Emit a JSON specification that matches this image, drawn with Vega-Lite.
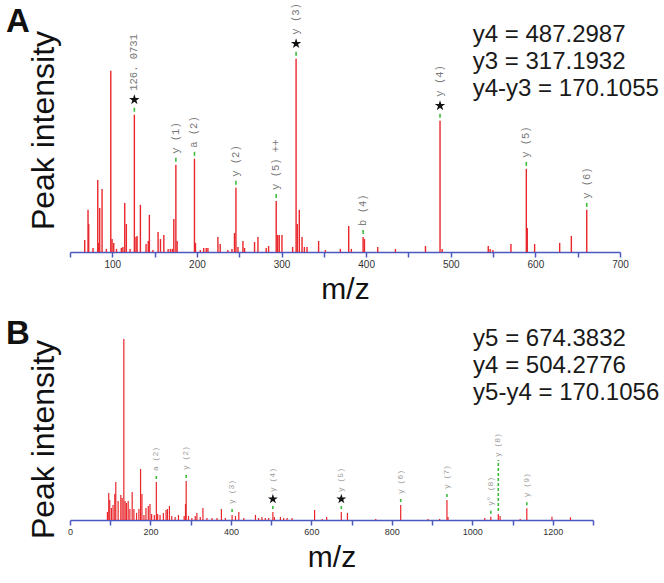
{
  "$schema": "https://vega.github.io/schema/vega-lite/v6.json",
  "background": "white",
  "padding": {"left": 6, "top": 3, "right": 0, "bottom": 0},
  "spacing": 14,
  "config": {
    "view": {"stroke": null},
    "font": "Liberation Sans",
    "axis": {"titleFontWeight": "normal", "titleColor": "#111", "labelFont": "Liberation Sans", "grid": false},
    "title": {"font": "Liberation Sans", "fontWeight": "bold", "color": "#111"}
  },
  "datasets": {
    "peaksA": [
      {"mz": 67.4, "intensity": 6.2}, {"mz": 71.3, "intensity": 21.8}, {"mz": 72.1, "intensity": 14.5}, {"mz": 77.2, "intensity": 2.1},
      {"mz": 82.8, "intensity": 37.3}, {"mz": 84.0, "intensity": 4.7}, {"mz": 85.1, "intensity": 22.8}, {"mz": 87.9, "intensity": 32.6},
      {"mz": 93.0, "intensity": 1.6}, {"mz": 98.2, "intensity": 93.8}, {"mz": 99.7, "intensity": 6.7}, {"mz": 101.7, "intensity": 4.7},
      {"mz": 105.0, "intensity": 1.6}, {"mz": 110.7, "intensity": 2.1}, {"mz": 112.5, "intensity": 2.6}, {"mz": 114.7, "intensity": 25.4},
      {"mz": 116.6, "intensity": 14.5}, {"mz": 121.0, "intensity": 1.6}, {"mz": 126.07, "intensity": 71.0}, {"mz": 128.0, "intensity": 7.8},
      {"mz": 129.3, "intensity": 8.3}, {"mz": 133.2, "intensity": 24.4}, {"mz": 139.9, "intensity": 4.1}, {"mz": 142.5, "intensity": 5.7},
      {"mz": 143.8, "intensity": 19.2}, {"mz": 148.0, "intensity": 1.0}, {"mz": 154.1, "intensity": 10.4}, {"mz": 156.9, "intensity": 6.7},
      {"mz": 160.9, "intensity": 8.8}, {"mz": 166.0, "intensity": 1.6}, {"mz": 168.7, "intensity": 1.6}, {"mz": 171.0, "intensity": 1.6},
      {"mz": 172.7, "intensity": 17.1}, {"mz": 175.12, "intensity": 45.1}, {"mz": 176.6, "intensity": 5.7}, {"mz": 197.1, "intensity": 48.2},
      {"mz": 198.3, "intensity": 4.7}, {"mz": 204.0, "intensity": 1.0}, {"mz": 208.0, "intensity": 2.1}, {"mz": 211.0, "intensity": 2.1},
      {"mz": 213.0, "intensity": 2.1}, {"mz": 224.8, "intensity": 7.8}, {"mz": 227.5, "intensity": 4.1}, {"mz": 236.6, "intensity": 1.0},
      {"mz": 241.4, "intensity": 1.6}, {"mz": 244.4, "intensity": 9.8}, {"mz": 246.1, "intensity": 33.2}, {"mz": 248.5, "intensity": 2.6},
      {"mz": 254.4, "intensity": 5.7}, {"mz": 256.3, "intensity": 2.1}, {"mz": 268.1, "intensity": 5.2}, {"mz": 272.1, "intensity": 7.8},
      {"mz": 281.9, "intensity": 2.1}, {"mz": 284.7, "intensity": 3.1}, {"mz": 293.7, "intensity": 26.4}, {"mz": 295.4, "intensity": 8.8},
      {"mz": 297.3, "intensity": 8.8}, {"mz": 300.5, "intensity": 8.8}, {"mz": 313.1, "intensity": 2.6}, {"mz": 317.19, "intensity": 100.0},
      {"mz": 318.6, "intensity": 14.5}, {"mz": 321.0, "intensity": 21.8}, {"mz": 324.2, "intensity": 7.8}, {"mz": 327.0, "intensity": 2.6},
      {"mz": 330.1, "intensity": 2.6}, {"mz": 343.8, "intensity": 5.7}, {"mz": 351.8, "intensity": 1.0}, {"mz": 369.5, "intensity": 1.6},
      {"mz": 379.4, "intensity": 13.5}, {"mz": 382.5, "intensity": 1.6}, {"mz": 396.4, "intensity": 7.8}, {"mz": 398.0, "intensity": 6.7},
      {"mz": 413.7, "intensity": 2.6}, {"mz": 434.6, "intensity": 1.6}, {"mz": 470.1, "intensity": 3.1}, {"mz": 487.3, "intensity": 67.9},
      {"mz": 489.8, "intensity": 1.6}, {"mz": 544.3, "intensity": 3.1}, {"mz": 546.5, "intensity": 1.6}, {"mz": 549.8, "intensity": 1.0},
      {"mz": 571.1, "intensity": 4.1}, {"mz": 589.3, "intensity": 43.0}, {"mz": 590.4, "intensity": 12.4}, {"mz": 599.1, "intensity": 4.1},
      {"mz": 628.7, "intensity": 4.7}, {"mz": 642.5, "intensity": 8.3}, {"mz": 660.7, "intensity": 21.8}
    ],
    "labelsA": [
      {"mz": 126.07, "intensity": 71.0, "level": 71.0, "label": "126. 0731", "star": true},
      {"mz": 175.12, "intensity": 45.1, "level": 45.1, "label": "y (1)", "star": false},
      {"mz": 197.1, "intensity": 48.2, "level": 48.2, "label": "a (2)", "star": false},
      {"mz": 246.1, "intensity": 33.2, "level": 33.2, "label": "y (2)", "star": false},
      {"mz": 293.7, "intensity": 26.4, "level": 26.4, "label": "y (5) ++", "star": false},
      {"mz": 317.19, "intensity": 100.0, "level": 100.0, "label": "y (3)", "star": true},
      {"mz": 396.4, "intensity": 7.8, "level": 7.8, "label": "b (4)", "star": false},
      {"mz": 487.3, "intensity": 67.9, "level": 67.9, "label": "y (4)", "star": true},
      {"mz": 589.3, "intensity": 43.0, "level": 43.0, "label": "y (5)", "star": false},
      {"mz": 660.7, "intensity": 21.8, "level": 21.8, "label": "y (6)", "star": false}
    ],
    "peaksB": [
      {"mz": 93.0, "intensity": 4.4}, {"mz": 96.3, "intensity": 14.9}, {"mz": 98.8, "intensity": 11.0}, {"mz": 102.9, "intensity": 6.6},
      {"mz": 107.0, "intensity": 8.3}, {"mz": 111.3, "intensity": 14.4}, {"mz": 113.8, "intensity": 21.0}, {"mz": 119.6, "intensity": 10.5},
      {"mz": 126.3, "intensity": 13.8}, {"mz": 129.6, "intensity": 12.2}, {"mz": 133.8, "intensity": 100.0}, {"mz": 137.0, "intensity": 10.5},
      {"mz": 140.4, "intensity": 9.4}, {"mz": 144.6, "intensity": 10.5}, {"mz": 148.8, "intensity": 6.1}, {"mz": 154.6, "intensity": 15.5},
      {"mz": 158.8, "intensity": 6.1}, {"mz": 165.4, "intensity": 3.9}, {"mz": 171.3, "intensity": 6.1}, {"mz": 175.4, "intensity": 28.2},
      {"mz": 178.8, "intensity": 14.4}, {"mz": 183.8, "intensity": 2.8}, {"mz": 188.8, "intensity": 6.6}, {"mz": 194.6, "intensity": 7.7},
      {"mz": 198.8, "intensity": 8.8}, {"mz": 202.9, "intensity": 3.3}, {"mz": 209.6, "intensity": 2.8}, {"mz": 214.6, "intensity": 21.0},
      {"mz": 217.9, "intensity": 3.3}, {"mz": 223.8, "intensity": 2.8}, {"mz": 232.1, "intensity": 3.9}, {"mz": 238.8, "intensity": 5.5},
      {"mz": 242.1, "intensity": 6.1}, {"mz": 247.1, "intensity": 7.7}, {"mz": 252.9, "intensity": 2.2}, {"mz": 261.3, "intensity": 1.7},
      {"mz": 269.6, "intensity": 2.8}, {"mz": 283.8, "intensity": 2.2}, {"mz": 287.1, "intensity": 8.8}, {"mz": 288.8, "intensity": 21.5},
      {"mz": 294.6, "intensity": 2.2}, {"mz": 302.9, "intensity": 1.1}, {"mz": 311.3, "intensity": 2.2}, {"mz": 315.4, "intensity": 3.9},
      {"mz": 323.8, "intensity": 1.7}, {"mz": 330.4, "intensity": 6.6}, {"mz": 340.4, "intensity": 1.1}, {"mz": 352.9, "intensity": 1.1},
      {"mz": 365.4, "intensity": 1.1}, {"mz": 376.3, "intensity": 6.1}, {"mz": 386.3, "intensity": 1.1}, {"mz": 402.9, "intensity": 2.8},
      {"mz": 411.3, "intensity": 2.2}, {"mz": 419.6, "intensity": 4.4}, {"mz": 432.1, "intensity": 1.1}, {"mz": 461.0, "intensity": 2.8},
      {"mz": 468.8, "intensity": 1.1}, {"mz": 477.0, "intensity": 1.7}, {"mz": 485.4, "intensity": 1.1}, {"mz": 493.8, "intensity": 1.1},
      {"mz": 504.28, "intensity": 4.4}, {"mz": 508.0, "intensity": 1.7}, {"mz": 523.0, "intensity": 1.7}, {"mz": 531.0, "intensity": 1.1},
      {"mz": 539.6, "intensity": 1.1}, {"mz": 552.0, "intensity": 1.1}, {"mz": 608.0, "intensity": 5.5}, {"mz": 627.0, "intensity": 0.6},
      {"mz": 638.0, "intensity": 1.7}, {"mz": 674.38, "intensity": 4.4}, {"mz": 689.6, "intensity": 3.9}, {"mz": 760.0, "intensity": 0.6},
      {"mz": 822.0, "intensity": 8.3}, {"mz": 889.6, "intensity": 0.6}, {"mz": 918.8, "intensity": 0.6}, {"mz": 937.0, "intensity": 11.0},
      {"mz": 939.6, "intensity": 1.7}, {"mz": 1031.0, "intensity": 1.1}, {"mz": 1046.0, "intensity": 1.8}, {"mz": 1064.6, "intensity": 3.3},
      {"mz": 1069.0, "intensity": 2.2}, {"mz": 1119.0, "intensity": 0.6}, {"mz": 1135.5, "intensity": 6.5}, {"mz": 1198.0, "intensity": 1.8},
      {"mz": 1244.0, "intensity": 1.5}
    ],
    "labelsB": [
      {"mz": 214.6, "intensity": 21.0, "level": 21.0, "label": "a (2)", "star": false},
      {"mz": 288.8, "intensity": 21.5, "level": 21.5, "label": "y (2)", "star": false},
      {"mz": 402.9, "intensity": 2.8, "level": 2.8, "label": "y (3)", "star": false},
      {"mz": 504.28, "intensity": 4.4, "level": 4.4, "label": "y (4)", "star": true},
      {"mz": 674.38, "intensity": 4.4, "level": 4.4, "label": "y (5)", "star": true},
      {"mz": 822.0, "intensity": 8.3, "level": 8.3, "label": "y (6)", "star": false},
      {"mz": 937.0, "intensity": 11.0, "level": 11.0, "label": "y (7)", "star": false},
      {"mz": 1046.0, "intensity": 1.8, "level": 1.8, "label": "y° (8)", "star": false},
      {"mz": 1064.6, "intensity": 3.3, "level": 28.7, "label": "y (8)", "star": false},
      {"mz": 1135.5, "intensity": 6.5, "level": 6.5, "label": "y (9)", "star": false}
    ]
  },
  "vconcat": [
    {
      "width": 550,
      "height": 232,
      "title": {"text": "A", "anchor": "start", "frame": "group", "fontSize": 33, "dx": -64, "offset": 0, "dy": 36},
      "layer": [
        {
          "data": {"name": "peaksA"},
          "mark": {"type": "rule", "color": "#e8262b", "strokeWidth": 1.4},
          "encoding": {
            "x": {"field": "mz", "type": "quantitative",
              "scale": {"domain": [50, 700], "nice": false, "zero": false},
              "axis": {"title": "m/z", "values": [50, 100, 150, 200, 250, 300, 350, 400, 450, 500, 550, 600, 650, 700],
                "labelExpr": "datum.value % 100 === 0 ? datum.label : ''", "labelOverlap": false, "labelFlush": false,
                "domainColor": "#4a58c0", "domainWidth": 1.6, "tickColor": "#4a58c0", "tickWidth": 1.5, "tickSize": 5,
                "labelFontSize": 10, "labelColor": "#333", "labelPadding": 2,
                "titleFontSize": 30, "titlePadding": 5}},
            "y": {"field": "intensity", "type": "quantitative",
              "scale": {"domain": [0, 120], "nice": false},
              "axis": {"title": "Peak intensity", "labels": false, "ticks": false, "domain": false,
                "titleFontSize": 32, "titlePadding": 10, "titleY": 110}},
            "y2": {"datum": 0}
          }
        },
        {
          "data": {"name": "labelsA"},
          "mark": {"type": "rule", "color": "#3dbb3d", "strokeWidth": 1.6, "yOffset": -3, "y2Offset": -7},
          "encoding": {
            "x": {"field": "mz", "type": "quantitative"},
            "y": {"field": "intensity", "type": "quantitative"},
            "y2": {"field": "level"}
          }
        },
        {
          "data": {"name": "labelsA"},
          "transform": [{"filter": "datum.star"}],
          "mark": {"type": "point", "shape": "M0,-1L0.2245,-0.309L0.951,-0.309L0.363,0.118L0.588,0.809L0,0.382L-0.588,0.809L-0.363,0.118L-0.951,-0.309L-0.2245,-0.309Z", "filled": true, "color": "#111", "size": 120, "opacity": 1, "yOffset": -15},
          "encoding": {
            "x": {"field": "mz", "type": "quantitative"},
            "y": {"field": "level", "type": "quantitative"}
          }
        },
        {
          "data": {"name": "labelsA"},
          "transform": [{"filter": "!datum.star"}],
          "mark": {"type": "text", "angle": 270, "align": "left", "baseline": "middle", "dx": 11, "font": "Liberation Mono", "fontSize": 10.5, "color": "#777"},
          "encoding": {
            "x": {"field": "mz", "type": "quantitative"},
            "y": {"field": "level", "type": "quantitative"},
            "text": {"field": "label"}
          }
        },
        {
          "data": {"name": "labelsA"},
          "transform": [{"filter": "datum.star"}],
          "mark": {"type": "text", "angle": 270, "align": "left", "baseline": "middle", "dx": 24, "font": "Liberation Mono", "fontSize": 10.5, "color": "#777"},
          "encoding": {
            "x": {"field": "mz", "type": "quantitative"},
            "y": {"field": "level", "type": "quantitative"},
            "text": {"field": "label"}
          }
        },
        {
          "data": {"values": [{}]},
          "mark": {"type": "text", "align": "left", "baseline": "alphabetic", "fontSize": 24, "lineHeight": 27, "color": "#1a1a1a", "text": ["y4 = 487.2987", "y3 = 317.1932", "y4-y3 = 170.1055"]},
          "encoding": {
            "x": {"datum": 526},
            "y": {"datum": 108.5}
          }
        }
      ]
    },
    {
      "width": 523,
      "height": 199,
      "title": {"text": "B", "anchor": "start", "frame": "group", "fontSize": 33, "dx": -64, "offset": 0, "dy": 30},
      "layer": [
        {
          "data": {"name": "peaksB"},
          "mark": {"type": "rule", "color": "#e8262b", "strokeWidth": 1.2},
          "encoding": {
            "x": {"field": "mz", "type": "quantitative",
              "scale": {"domain": [0, 1300], "nice": false, "zero": false},
              "axis": {"title": "m/z", "format": "d", "values": [0, 100, 200, 300, 400, 500, 600, 700, 800, 900, 1000, 1100, 1200, 1300],
                "labelExpr": "datum.value % 200 === 0 && datum.value < 1300 ? datum.label : ''", "labelOverlap": false, "labelFlush": false,
                "domainColor": "#4a58c0", "domainWidth": 1.6, "tickColor": "#4a58c0", "tickWidth": 1.5, "tickSize": 5,
                "labelFontSize": 9, "labelColor": "#333", "labelPadding": 2,
                "titleFontSize": 30, "titlePadding": 6}},
            "y": {"field": "intensity", "type": "quantitative",
              "scale": {"domain": [0, 110], "nice": false},
              "axis": {"title": "Peak intensity", "labels": false, "ticks": false, "domain": false,
                "titleFontSize": 32, "titlePadding": 10, "titleY": 118}},
            "y2": {"datum": 0}
          }
        },
        {
          "data": {"name": "labelsB"},
          "mark": {"type": "rule", "color": "#3dbb3d", "strokeWidth": 1.6, "strokeDash": [3, 2], "yOffset": -3, "y2Offset": -8},
          "encoding": {
            "x": {"field": "mz", "type": "quantitative"},
            "y": {"field": "intensity", "type": "quantitative"},
            "y2": {"field": "level"}
          }
        },
        {
          "data": {"name": "labelsB"},
          "transform": [{"filter": "datum.star"}],
          "mark": {"type": "point", "shape": "M0,-1L0.2245,-0.309L0.951,-0.309L0.363,0.118L0.588,0.809L0,0.382L-0.588,0.809L-0.363,0.118L-0.951,-0.309L-0.2245,-0.309Z", "filled": true, "color": "#111", "size": 110, "opacity": 1, "yOffset": -13},
          "encoding": {
            "x": {"field": "mz", "type": "quantitative"},
            "y": {"field": "level", "type": "quantitative"}
          }
        },
        {
          "data": {"name": "labelsB"},
          "transform": [{"filter": "!datum.star"}],
          "mark": {"type": "text", "angle": 270, "align": "left", "baseline": "middle", "dx": 11, "font": "Liberation Mono", "fontSize": 8, "color": "#999"},
          "encoding": {
            "x": {"field": "mz", "type": "quantitative"},
            "y": {"field": "level", "type": "quantitative"},
            "text": {"field": "label"}
          }
        },
        {
          "data": {"name": "labelsB"},
          "transform": [{"filter": "datum.star"}],
          "mark": {"type": "text", "angle": 270, "align": "left", "baseline": "middle", "dx": 20, "font": "Liberation Mono", "fontSize": 8, "color": "#999"},
          "encoding": {
            "x": {"field": "mz", "type": "quantitative"},
            "y": {"field": "level", "type": "quantitative"},
            "text": {"field": "label"}
          }
        },
        {
          "data": {"values": [{}]},
          "mark": {"type": "text", "align": "left", "baseline": "alphabetic", "fontSize": 24, "lineHeight": 27, "color": "#1a1a1a", "text": ["y5 = 674.3832", "y4 = 504.2776", "y5-y4 = 170.1056"]},
          "encoding": {
            "x": {"datum": 1002},
            "y": {"datum": 96}
          }
        }
      ]
    }
  ]
}
